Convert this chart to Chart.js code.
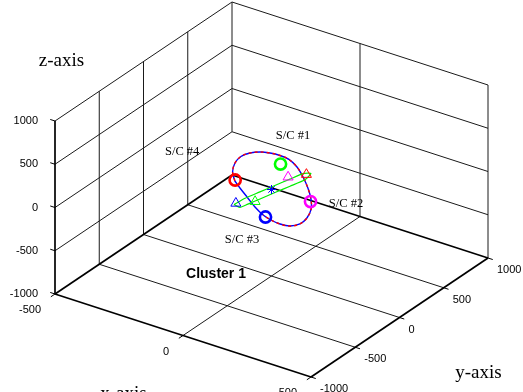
<!DOCTYPE html>
<html>
<head>
<meta charset="utf-8">
<script src="https://cdn.jsdelivr.net/npm/chart.js@4.4.0/dist/chart.umd.min.js"></script>
<style>
  html, body { margin: 0; padding: 0; background: #fff; overflow: hidden; }
  canvas { display: block; }
</style>
</head>
<body>
<canvas id="scene" width="523" height="392"></canvas>
<script>
// ---- axis box (data units) ----
const xRange = [-500, 500];
const yRange = [-1000, 1000];
const zRange = [-1000, 1000];
const xTicks = [-500, 0, 500];
const yTicks = [-1000, -500, 0, 500, 1000];
const zTicks = [-1000, -500, 0, 500, 1000];
const xTickLabels = ['-500', '0', '500'];
const yTickLabels = ['-1000', '-500', '0', '500', '1000'];
const zTickLabels = ['-1000', '-500', '0', '500', '1000'];

// ---- reference orbit of the formation (km) ----
const orbitX = [-130, -171, -200, -210, -200, -177, -147, -111, -72, -21, 34, 90, 141, 181, 205, 210, 192, 158, 118, 78, 25, -35, -89, -130];
const orbitY = [-38, 55, 166, 262, 335, 383, 408, 417, 405, 349, 258, 151, 38, -76, -193, -286, -346, -360, -348, -320, -259, -175, -99, -38];
const orbitZ = [0, 0, 0, 0, 0, 0, 0, 0, 0, 0, 0, 0, 0, 0, 0, 0, 0, 0, 0, 0, 0, 0, 0, 0];
const tracedPoints = 20; // part of the orbit already flown (dashed red)

// ---- relative loop of the tetrahedron (km) ----
const loopX = [-40, -35, -21, -7, 8, 21, 41, 50, 36, 21, 7, -5, -13, -40];
const loopY = [-308, -197, -70, 58, 185, 296, 327, 233, 105, -22, -150, -252, -320, -308];
const loopZ = [0, 0, 0, 0, 0, 0, 0, 0, 0, 0, 0, 0, 0, 0];

// ---- spacecraft positions (km) ----
const scNames = ['S/C #1', 'S/C #2', 'S/C #3', 'S/C #4'];
const scColors = ['#00ff00', '#ff00ff', '#0000ff', '#ff0000'];
const scX = [-76, 150, 92, -133];
const scY = [322, 7, -334, -26];
const scZ = [0, 0, 0, 0];

// ---- spacecraft positions one step later (km) ----
const nextX = [4, -5, -40, 33];
const nextY = [-197, 202, -287, 299];
const nextZ = [0, 0, 0, 0];

// ---- formation barycentre ----
const centreX = [0];
const centreY = [0];
const centreZ = [0];

const clusterTitle = 'Cluster 1';
const axisTitles = { x: 'x-axis', y: 'y-axis', z: 'z-axis' };

// ---- camera: screen image of the unit vectors ----
const W = 523, H = 392;
const camOrigin = [271.5, 189.5];
const camX = [0.256, 0.083];
const camY = [0.0885, -0.0595];
const camZ = [0, -0.0865];

function project(x, y, z) {
  return {
    x: camOrigin[0] + camX[0] * x + camY[0] * y + camZ[0] * z,
    y: camOrigin[1] + camX[1] * x + camY[1] * y + camZ[1] * z
  };
}
function projectSeries(xs, ys, zs) {
  return xs.map((v, i) => project(v, ys[i], zs[i]));
}

const [xmin, xmax] = xRange, [ymin, ymax] = yRange, [zmin, zmax] = zRange;

// grid lines on the back walls and floor
const gridSegs = [];
zTicks.slice(1).forEach(z => gridSegs.push([[xmin, ymin, z], [xmin, ymax, z]]));
yTicks.slice(1, -1).forEach(y => gridSegs.push([[xmin, y, zmin], [xmin, y, zmax]]));
gridSegs.push([[xmin, ymax, zTicks[1]], [xmin, ymax, zmax]]);
zTicks.slice(1).forEach(z => gridSegs.push([[xmin, ymax, z], [xmax, ymax, z]]));
xTicks.slice(1).forEach(x => gridSegs.push([[x, ymax, zmin], [x, ymax, zmax]]));
yTicks.slice(1, -1).forEach(y => gridSegs.push([[xmin, y, zmin], [xmax, y, zmin]]));
xTicks.slice(1, -1).forEach(x => gridSegs.push([[x, ymin, zmin], [x, ymax, zmin]]));

// axis lines and floor border
const axisSegs = [
  [[xmin, ymin, zmin], [xmin, ymin, zmax]],
  [[xmin, ymin, zmin], [xmax, ymin, zmin]],
  [[xmax, ymin, zmin], [xmax, ymax, zmin]],
  [[xmin, ymin, zmin], [xmin, ymax, zmin]],
  [[xmin, ymax, zmin], [xmax, ymax, zmin]]
];

function unit(v) { const l = Math.hypot(v[0], v[1]); return [v[0] / l, v[1] / l]; }
const TICK = 5;
const tickSegs = [];
const dz = unit([-camX[0], -camX[1]]);
const dx = unit([-camY[0], -camY[1]]);
const dy = unit([camX[0], camX[1]]);
zTicks.forEach(z => { const p = project(xmin, ymin, z); tickSegs.push([p, { x: p.x + dz[0] * TICK, y: p.y + dz[1] * TICK }]); });
xTicks.forEach(x => { const p = project(x, ymin, zmin); tickSegs.push([p, { x: p.x + dx[0] * TICK, y: p.y + dx[1] * TICK }]); });
yTicks.forEach(y => { const p = project(xmax, y, zmin); tickSegs.push([p, { x: p.x + dy[0] * TICK, y: p.y + dy[1] * TICK }]); });

function lineSet(points, color, width, order, extra) {
  return Object.assign({
    data: points, showLine: true, borderColor: color, borderWidth: width,
    pointRadius: 0, pointHoverRadius: 0, fill: false, tension: 0, order: order
  }, extra || {});
}

const datasets = [];
gridSegs.forEach(s => datasets.push(lineSet(s.map(p => project(p[0], p[1], p[2])), '#1a1a1a', 1, 20)));
axisSegs.forEach(s => datasets.push(lineSet(s.map(p => project(p[0], p[1], p[2])), '#000', 1.7, 19)));
tickSegs.forEach(s => datasets.push(lineSet(s, '#000', 1, 19)));

const orbitPts = projectSeries(orbitX, orbitY, orbitZ);
datasets.push(lineSet(orbitPts, '#0000ff', 1.4, 8, { tension: 0.35 }));
datasets.push(lineSet(orbitPts.slice(0, tracedPoints), '#ff0000', 1.4, 7, { tension: 0.35, borderDash: [3, 3] }));
datasets.push(lineSet(projectSeries(loopX, loopY, loopZ), '#00ee00', 1.2, 6, { tension: 0.2 }));

datasets.push({
  data: projectSeries(scX, scY, scZ), showLine: false, order: 2,
  pointStyle: 'circle', pointRadius: 5.6, pointBorderWidth: 2.6,
  pointBorderColor: scColors, pointBackgroundColor: 'rgba(0,0,0,0)'
});
datasets.push({
  data: projectSeries(nextX, nextY, nextZ), showLine: false, order: 3,
  pointStyle: 'triangle', pointRadius: 5.8, pointBorderWidth: 1,
  pointBorderColor: scColors, pointBackgroundColor: 'rgba(0,0,0,0)'
});
datasets.push({
  data: projectSeries(centreX, centreY, centreZ), showLine: false, order: 1,
  pointStyle: 'star', pointRadius: 4.5, pointBorderWidth: 1,
  pointBorderColor: '#0000ff', pointBackgroundColor: '#0000ff'
});

// text: tick labels, axis titles, spacecraft names
const labelOffsets = [[12.5, -28], [35.5, 2], [-23.5, 23], [-53, -28]];
const sceneText = {
  id: 'sceneText',
  afterDatasetsDraw(chart) {
    const { ctx, scales } = chart;
    const px = p => ({ x: scales.x.getPixelForValue(p.x), y: scales.y.getPixelForValue(p.y) });
    ctx.save();
    ctx.fillStyle = '#000';
    ctx.font = '11px "Liberation Sans", Arial, sans-serif';
    ctx.textBaseline = 'middle';
    ctx.textAlign = 'right';
    zTicks.forEach((z, i) => { const p = px(project(xmin, ymin, z)); ctx.fillText(zTickLabels[i], p.x - 17, p.y); });
    xTicks.forEach((x, i) => { const p = px(project(x, ymin, zmin)); ctx.fillText(xTickLabels[i], p.x - 14, p.y + 16); });
    ctx.textAlign = 'left';
    yTicks.forEach((y, i) => { const p = px(project(xmax, y, zmin)); ctx.fillText(yTickLabels[i], p.x + 9, p.y + 12); });

    ctx.font = '19px "Liberation Serif", "Times New Roman", serif';
    ctx.textAlign = 'center';
    ctx.fillText(axisTitles.z, 61.5, 61);
    ctx.fillText(axisTitles.y, 478.5, 373);
    ctx.fillText(axisTitles.x, 123.5, 394);

    ctx.font = '12.5px "Liberation Serif", "Times New Roman", serif';
    scNames.forEach((n, i) => {
      const p = px(project(scX[i], scY[i], scZ[i]));
      ctx.fillText(n, p.x + labelOffsets[i][0], p.y + labelOffsets[i][1]);
    });

    ctx.font = 'bold 14px "Liberation Sans", Arial, sans-serif';
    ctx.fillText(clusterTitle, 216, 274);
    ctx.restore();
  }
};

new Chart(document.getElementById('scene'), {
  type: 'scatter',
  data: { datasets },
  options: {
    responsive: false,
    animation: false,
    devicePixelRatio: 1,
    layout: { padding: 0, autoPadding: false },
    plugins: { legend: { display: false }, tooltip: { enabled: false } },
    scales: {
      x: { type: 'linear', min: 0, max: W, display: false },
      y: { type: 'linear', min: 0, max: H, reverse: true, display: false }
    }
  },
  plugins: [sceneText]
});
</script>
</body>
</html>
